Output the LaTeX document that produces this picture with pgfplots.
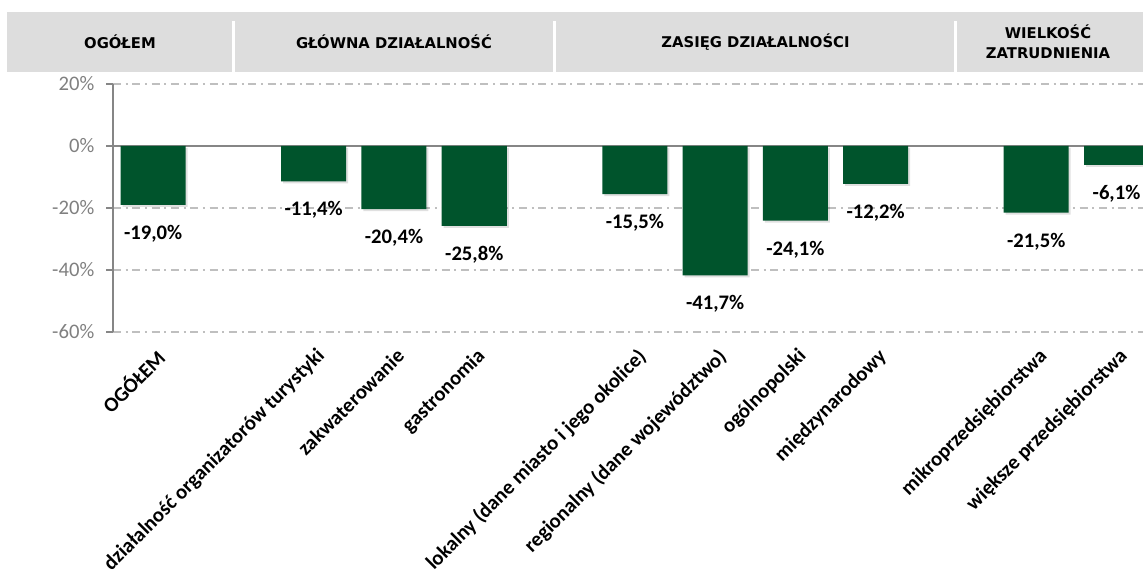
\documentclass[border=0pt]{standalone}
\usepackage{pgfplots}
\usepackage{pgfplotstable}
\pgfplotsset{compat=1.18}
\usepackage{fontspec}
\setmainfont{Carlito}
\newfontfamily\headfont{DejaVu Sans}
\definecolor{bargreen}{HTML}{00542C}
\definecolor{headgray}{HTML}{DDDDDD}
\definecolor{ticktxt}{HTML}{808080}
\definecolor{axisgray}{HTML}{868686}
\definecolor{gridgray}{HTML}{BFBFBF}
\pgfplotstableread{
x y label
0 -19.0 -19,0\%
2 -11.4 -11,4\%
3 -20.4 -20,4\%
4 -25.8 -25,8\%
6 -15.5 -15,5\%
7 -41.7 -41,7\%
8 -24.1 -24,1\%
9 -12.2 -12,2\%
11 -21.5 -21,5\%
12 -6.1 -6,1\%
}\datatable
\begin{document}
\begin{tikzpicture}
\begin{axis}[
  at={(0,0)}, anchor=south west,
  scale only axis,
  width=772.5pt, height=186pt,
  xmin=-0.5, xmax=12.33,
  ymin=-60, ymax=20,
  ytick={-60,-40,-20,0,20},
  yticklabel={\pgfmathprintnumber{\tick}\%},
  /pgf/number format/assume math mode=true,
  yticklabel style={font=\fontsize{15.5}{18}\selectfont, text=ticktxt, xshift=-5.5pt},
  xtick={0,2,3,4,6,7,8,9,11,12},
  xticklabels={OGÓŁEM,działalność organizatorów turystyki,zakwaterowanie,gastronomia,lokalny (dane miasto i jego okolice),regionalny (dane województwo),ogólnopolski,międzynarodowy,mikroprzedsiębiorstwa,większe przedsiębiorstwa},
  xticklabel style={yshift=-6pt, xshift=1pt, rotate=45, anchor=north east, inner sep=0pt, font=\bfseries\fontsize{15.5}{18}\selectfont},
  x tick style={draw=none},
  y tick style={axisgray, line width=1.5pt},
  tick align=outside,
  major tick length=5pt,
  axis x line*=bottom, axis y line*=left,
  x axis line style={draw=none},
  y axis line style={axisgray, line width=1.5pt, -},
  ymajorgrids,
  grid style={gridgray, line width=1.1pt, dash pattern=on 6pt off 3.5pt on 1.5pt off 3.5pt},
  extra y ticks={0},
  extra y tick labels={},
  extra y tick style={grid=major, major grid style={solid, axisgray, line width=1.5pt}, major tick length=0pt},
  nodes near coords,
  point meta=explicit symbolic,
  nodes near coords style={anchor=north, yshift=-15pt, inner sep=0pt, font=\bfseries\fontsize{15.5}{18}\selectfont, text=black},
]
\addplot[ybar, bar width=0.81, fill=bargreen, draw=none,
  preaction={fill=black, fill opacity=0.12, draw=none, transform canvas={xshift=1.5pt, yshift=-1.5pt}}]
  table[x=x, y=y, meta=label] {\datatable};
\end{axis}
% header band
\fill[headgray] (-79.5pt,195pt) rectangle (780pt,240pt);
\foreach \sx in {90.2pt,331.1pt,632.2pt}{
  \draw[white, line width=2.25pt] (\sx,195pt) -- (\sx,233pt);
}
\begin{scope}[font=\headfont\bfseries\fontsize{11.1}{15}\selectfont]
\node at (5.25pt,217.5pt) {OGÓŁEM};
\node at (210.75pt,217.5pt) {GŁÓWNA DZIAŁALNOŚĆ};
\node at (481.9pt,217.5pt) {ZASIĘG DZIAŁALNOŚCI};
\node[align=center] at (701.25pt,218pt) {WIELKOŚĆ\\ZATRUDNIENIA};
\end{scope}
\pgfresetboundingbox
\useasboundingbox (-84.75pt,-186.75pt) rectangle (772.5pt,249pt);
\end{tikzpicture}
\end{document}
